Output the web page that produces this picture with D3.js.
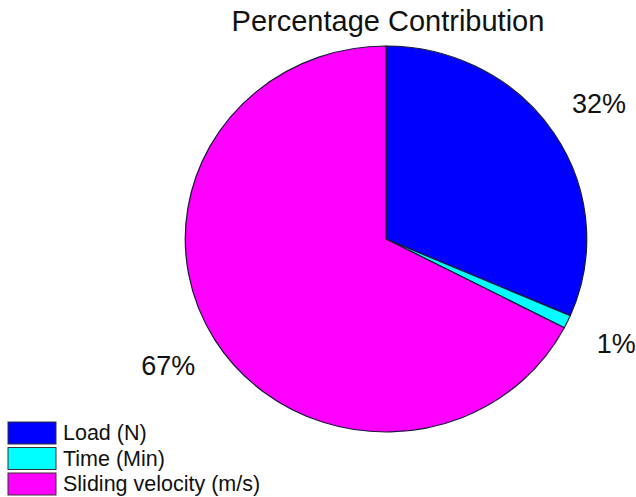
<!DOCTYPE html>
<html>
<head>
<meta charset="utf-8">
<script src="https://cdn.jsdelivr.net/npm/d3@7"></script>
<style>
  body { margin: 0; background: #fff; }
  text { font-family: Arial, "Liberation Sans", sans-serif; fill: #111; }
</style>
</head>
<body>
<svg id="chart" width="636" height="497"></svg>
<script>
// data
const factors = ['Load (N)', 'Time (Min)', 'Sliding velocity (m/s)'];
const shares = [31.5, 1.1, 67.4];
const labels = ['32%', '1%', '67%'];
const colors = ['#0000ff', '#00ffff', '#ff00ff'];

const svg = d3.select('#chart');
const cx = 386, cy = 239, r = 193, sx = 1.04;

svg.append('text')
  .attr('x', 388).attr('y', 31)
  .attr('text-anchor', 'middle')
  .style('font-size', '29px')
  .text('Percentage Contribution');

const pie = d3.pie().sort(null).value(d => d)(shares);
const arc = d3.arc().innerRadius(0).outerRadius(r);
const labelArc = d3.arc().innerRadius(245).outerRadius(245);

const g = svg.append('g')
  .attr('transform', 'translate(' + cx + ',' + cy + ') scale(' + sx + ',1)');

g.selectAll('path')
  .data(pie)
  .join('path')
  .attr('d', arc)
  .attr('fill', (d, i) => colors[i])
  .attr('stroke', '#1a1a3a')
  .attr('stroke-width', 1.2);

svg.selectAll('.pct')
  .data(pie)
  .join('text')
  .attr('class', 'pct')
  .attr('x', d => cx + labelArc.centroid(d)[0] * sx)
  .attr('y', d => cy + labelArc.centroid(d)[1])
  .attr('text-anchor', 'middle')
  .attr('dominant-baseline', 'central')
  .style('font-size', '27px')
  .text((d, i) => labels[i]);

const legend = svg.append('g').attr('transform', 'translate(8,422)');
const rows = legend.selectAll('g')
  .data(factors)
  .join('g')
  .attr('transform', (d, i) => 'translate(0,' + (i * 25.5) + ')');

rows.append('rect')
  .attr('width', 48).attr('height', 22)
  .attr('fill', (d, i) => colors[i])
  .attr('stroke', '#333').attr('stroke-width', 1);

rows.append('text')
  .attr('x', 55).attr('y', 11)
  .attr('dominant-baseline', 'central')
  .style('font-size', '21.5px')
  .text(d => d);
</script>
</body>
</html>
